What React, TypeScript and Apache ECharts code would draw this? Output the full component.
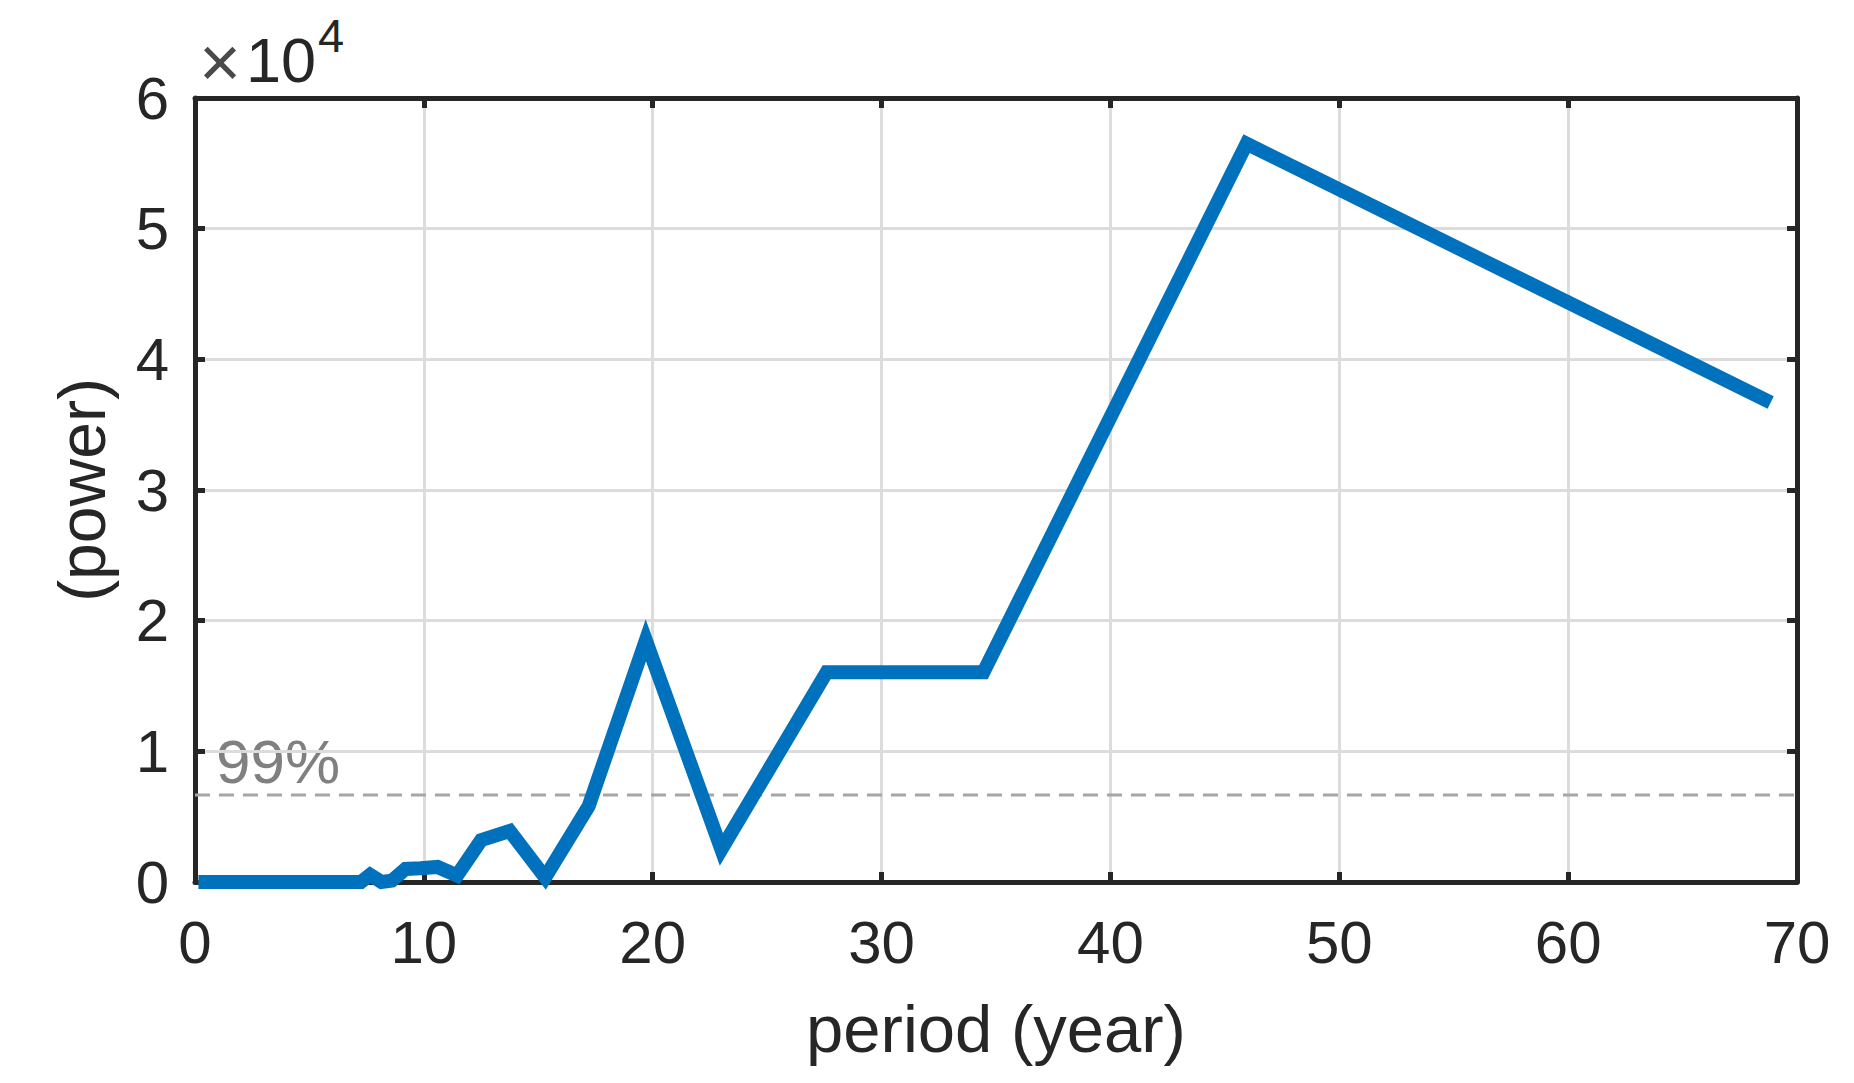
import React, { useEffect, useRef } from "react";
import * as echarts from "echarts";

// period (year) values
const periods = [0.15, 7.25, 7.65, 8.15, 8.6, 9.2, 9.85, 10.6, 11.45, 12.5, 13.75, 15.3, 17.2, 19.7, 23.0, 27.6, 34.45, 45.95, 68.85];
// power values
const powers = [0, 0, 550, 0, 100, 1000, 1050, 1150, 500, 3200, 3900, 350, 5800, 18500, 2500, 16050, 16050, 56500, 36700];
// 99% significance level
const threshold99 = 6650;
const xTicks = [0, 10, 20, 30, 40, 50, 60, 70];
const yTickLabels = ["0", "1", "2", "3", "4", "5", "6"];

const FONT = "'Liberation Sans', Arial, Helvetica, sans-serif";
const INK = "#262626";

export default function App() {
  const ref = useRef<HTMLDivElement>(null);
  useEffect(() => {
    if (!ref.current) return;
    const chart = echarts.init(ref.current, undefined, { renderer: "svg" });
    const lineData = periods.map((p, i) => [p, powers[i]]);
    const xMin = xTicks[0];
    const xMax = xTicks[xTicks.length - 1];
    const xInterval = xTicks[1] - xTicks[0];
    const yStep = 10000;
    const yMax = (yTickLabels.length - 1) * yStep;

    const hiddenAxisCommon = {
      axisLine: { show: true, onZero: false, lineStyle: { color: INK, width: 5 } },
      axisTick: { show: true, inside: true, length: 10, lineStyle: { color: INK, width: 5 } },
      axisLabel: { show: false },
      splitLine: { show: false },
    };

    chart.setOption({
      animation: false,
      backgroundColor: "#ffffff",
      grid: {
        left: 195,
        right: 57,
        top: 98,
        bottom: 201,
        containLabel: false,
        outerBoundsMode: "none",
      },
      xAxis: [
        {
          type: "value",
          min: xMin,
          max: xMax,
          interval: xInterval,
          name: "period (year)",
          nameLocation: "middle",
          nameGap: 113,
          nameTextStyle: { fontFamily: FONT, fontSize: 67, color: INK },
          axisLine: { show: true, onZero: false, lineStyle: { color: INK, width: 5 } },
          axisTick: { show: true, inside: true, length: 10, lineStyle: { color: INK, width: 5 } },
          axisLabel: { fontFamily: FONT, fontSize: 60, color: INK, margin: 30 },
          splitLine: { show: true, lineStyle: { color: "#dcdcdc", width: 3 } },
        },
        {
          type: "value",
          position: "top",
          min: xMin,
          max: xMax,
          interval: xInterval,
          ...hiddenAxisCommon,
        },
      ],
      yAxis: [
        {
          type: "value",
          min: 0,
          max: yMax,
          interval: yStep,
          name: "(power)",
          nameLocation: "middle",
          nameGap: 80,
          nameTextStyle: { fontFamily: FONT, fontSize: 66, color: INK },
          axisLine: { show: true, onZero: false, lineStyle: { color: INK, width: 5 } },
          axisTick: { show: true, inside: true, length: 10, lineStyle: { color: INK, width: 5 } },
          axisLabel: {
            fontFamily: FONT,
            fontSize: 60,
            color: INK,
            margin: 26,
            formatter: (v: number) => yTickLabels[Math.round(v / yStep)] ?? "",
          },
          splitLine: { show: true, lineStyle: { color: "#dcdcdc", width: 3 } },
        },
        {
          type: "value",
          position: "right",
          min: 0,
          max: yMax,
          interval: yStep,
          ...hiddenAxisCommon,
        },
      ],
      series: [
        {
          type: "line",
          data: [
            [xMin, threshold99],
            [xMax, threshold99],
          ],
          symbol: "none",
          silent: true,
          lineStyle: { color: "#a6a6a6", width: 3, type: [15, 9] },
          z: 1,
        },
        {
          type: "line",
          data: lineData,
          symbol: "none",
          clip: false,
          lineStyle: { color: "#0072BD", width: 14, join: "miter", cap: "butt" },
          z: 5,
        },
      ],
      graphic: [
        {
          type: "text",
          left: 199,
          top: 26,
          style: {
            text: "×",
            font: `72px ${FONT}`,
            fill: "#4a4a4a",
          },
        },
        {
          type: "text",
          left: 246,
          top: 28,
          style: {
            text: "10",
            font: `63px ${FONT}`,
            fill: INK,
          },
        },
        {
          type: "text",
          left: 318,
          top: 12,
          style: {
            text: "4",
            font: `47px ${FONT}`,
            fill: INK,
          },
        },
        {
          type: "text",
          left: 216,
          top: 730,
          style: {
            text: "99%",
            font: `62px ${FONT}`,
            fill: "#808080",
          },
        },
      ],
    });
    return () => chart.dispose();
  }, []);
  return (
    <div
      ref={ref}
      style={{ position: "absolute", left: 0, top: 0, width: 1854, height: 1083 }}
    />
  );
}
